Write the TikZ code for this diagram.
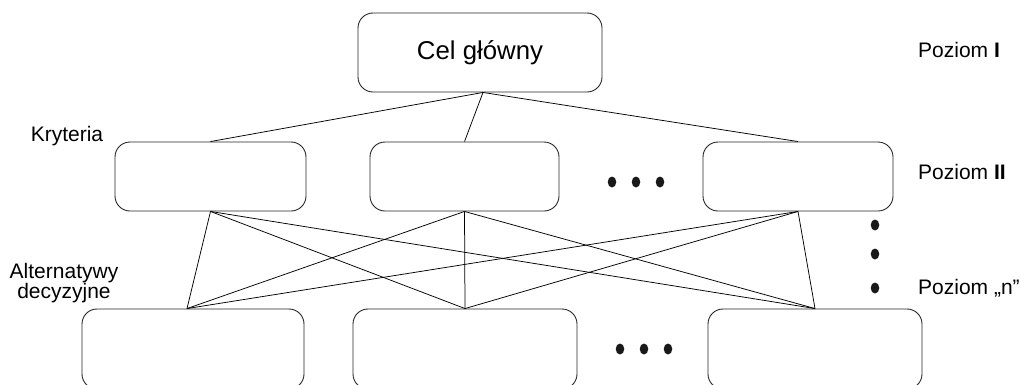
\documentclass[tikz,border=0pt]{standalone}
\usepackage{fontspec}
\setmainfont{Liberation Sans}
\usetikzlibrary{calc,shapes.geometric}
\begin{document}
\begin{tikzpicture}[x=1pt,y=-1pt,
  box/.style={draw=black!85,line width=0.9pt,rounded corners=15pt,inner sep=0pt},
  conn/.style={draw=black,line width=0.75pt},
  lbl/.style={font=\fontsize{21}{24}\selectfont,inner sep=0pt},
  dot/.style={fill=black!90,draw=none,ellipse,minimum width=8.5pt,minimum height=11pt,inner sep=0pt}]
\useasboundingbox (0,0) rectangle (1021,384);
% level I
\node[box,minimum width=244pt,minimum height=79pt,font=\fontsize{25.8}{28}\selectfont] (top) at (480,52.5) {Cel główny};
% level II
\node[box,minimum width=191pt,minimum height=69pt] (k1) at (210.5,176.5) {};
\node[box,minimum width=189pt,minimum height=69pt] (k2) at (464.5,176.5) {};
\node[box,minimum width=190pt,minimum height=69pt] (k3) at (798,176.5) {};
% level n
\node[box,minimum width=222pt,minimum height=80pt] (a1) at (193,349) {};
\node[box,minimum width=224pt,minimum height=80pt] (a2) at (465,349) {};
\node[box,minimum width=214pt,minimum height=80pt] (a3) at (815,349) {};
% connectors
\coordinate (tp) at ($(top.south)+(3,0)$);
\coordinate (a1p) at ($(a1.north)+(-6,0)$);
\foreach \k in {k1,k2,k3} \draw[conn] (tp) -- (\k.north);
\foreach \k in {k1,k2,k3}
  \foreach \a in {a1p,a2.north,a3.north}
    \draw[conn] (\k.south) -- (\a);
% dots
\node[dot] (d1) at (612,182) {};
\node[dot] (d2) at (636,182) {};
\node[dot] (d3) at (660,182) {};
\node[dot] (e1) at (620,349) {};
\node[dot] (e2) at (644,349) {};
\node[dot] (e3) at (668,349) {};
\node[dot] (v1) at (875,225) {};
\node[dot] (v2) at (875,254) {};
\node[dot] (v3) at (875,288) {};
% labels
\node[lbl,anchor=west] (p1) at (918,49.5) {Poziom \textbf{I}};
\node[lbl,anchor=west] (p2) at (918,172) {Poziom \textbf{II}};
\node[lbl,anchor=west] (pn) at (918,288) {Poziom „n”};
\node[lbl] (kr) at (67,136) {Kryteria};
\node[lbl,align=center,font=\fontsize{21}{18.5}\selectfont] (alt) at (64,283) {Alternatywy\\decyzyjne};
\end{tikzpicture}
\end{document}
